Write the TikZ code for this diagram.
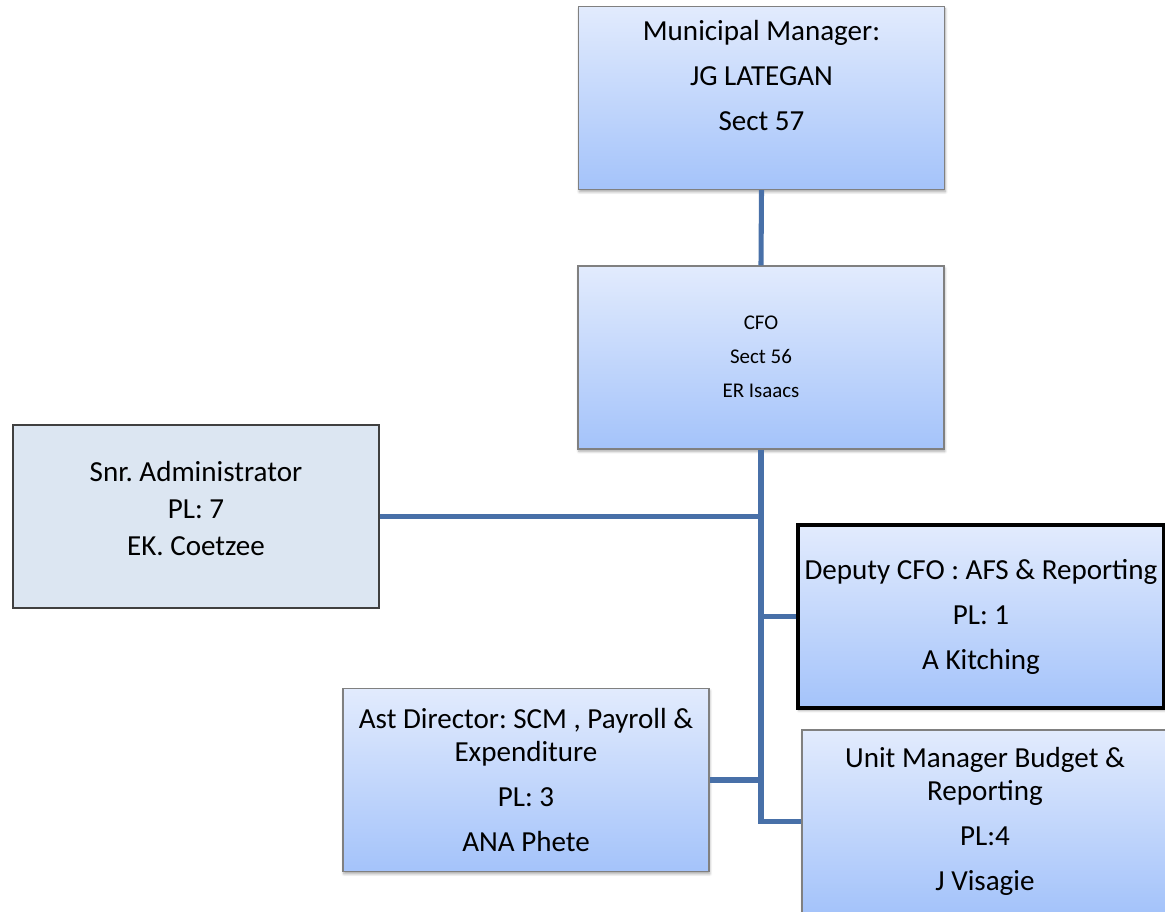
\documentclass[tikz,border=0pt]{standalone}
\usepackage{fontspec}
\setmainfont{Carlito}
\usetikzlibrary{shadows.blur}
\definecolor{boxtop}{RGB}{226,235,253}
\definecolor{boxbot}{RGB}{164,195,250}
\definecolor{boxedge}{RGB}{128,128,128}
\definecolor{linkblue}{RGB}{72,112,168}
\definecolor{plainfill}{RGB}{220,230,242}
\frenchspacing
\begin{document}
\begin{tikzpicture}[x=0.75pt,y=-0.75pt,
  orgbox/.style={rectangle, minimum width=274.5pt, minimum height=137.25pt, inner sep=0pt,
    top color=boxtop, bottom color=boxbot, draw=boxedge, line width=1.1pt,
    blur shadow={shadow xshift=0.6pt, shadow yshift=-1.8pt, shadow blur steps=6, shadow opacity=35}},
  boldbox/.style={orgbox, draw=black, line width=2.3pt},
  plainbox/.style={rectangle, minimum width=274.5pt, minimum height=137.25pt, inner sep=0pt,
    fill=plainfill, draw=black!75, line width=1.1pt},
  bigtext/.style={align=center, inner sep=0pt, font=\fontsize{21.8}{24.75}\selectfont},
  smalltext/.style={align=center, inner sep=0pt, font=\fontsize{15.7}{25.5}\selectfont},
  link/.style={draw=linkblue, line width=3.8pt}
]
\useasboundingbox (0,0) rectangle (1165,912);

% boxes
\node[orgbox]   (mm)   at (761.5,98)  {};
\node[orgbox]   (cfo)  at (761,357.5) {};
\node[plainbox] (snr)  at (196,516.5) {};
\node[boldbox]  (dep)  at (981,616.5) {};
\node[orgbox]   (ast)  at (526,780)   {};
\node[orgbox]   (unit) at (985,821.5) {};

% captions
\node[bigtext]   (mmt)   at (761.5,75.5) {Municipal Manager:\\[9pt]JG LATEGAN\\[9pt]Sect 57};
\node[smalltext] (cfot)  at (761,357)    {CFO\\Sect 56\\ER Isaacs};
\node[bigtext]   (snrt)  at (196,508.5)  {Snr. Administrator\\[3pt]PL: 7\\[3pt]EK. Coetzee};
\node[bigtext]   (dept)  at (981,616.5)  {Deputy CFO : AFS \& Reporting\\[9pt]PL: 1\\[9pt]A Kitching};
\node[bigtext]   (astt)  at (526,780.5)  {Ast Director: SCM , Payroll \&\\Expenditure\\[9pt]PL: 3\\[9pt]ANA Phete};
\node[bigtext]   (unitt) at (985,821)    {Unit Manager Budget \&\\Reporting\\[9pt]PL:4\\[9pt]J Visagie};

% reporting lines
\draw[link] (mm.south) -- (cfo.north);
\draw[link] (cfo.south) |- (unit.west);
\draw[link] (snr.east) -- (snr.east -| cfo.south);
\draw[link] (dep.west) -- (dep.west -| cfo.south);
\draw[link] (ast.east) -- (ast.east -| cfo.south);
\end{tikzpicture}
\end{document}
